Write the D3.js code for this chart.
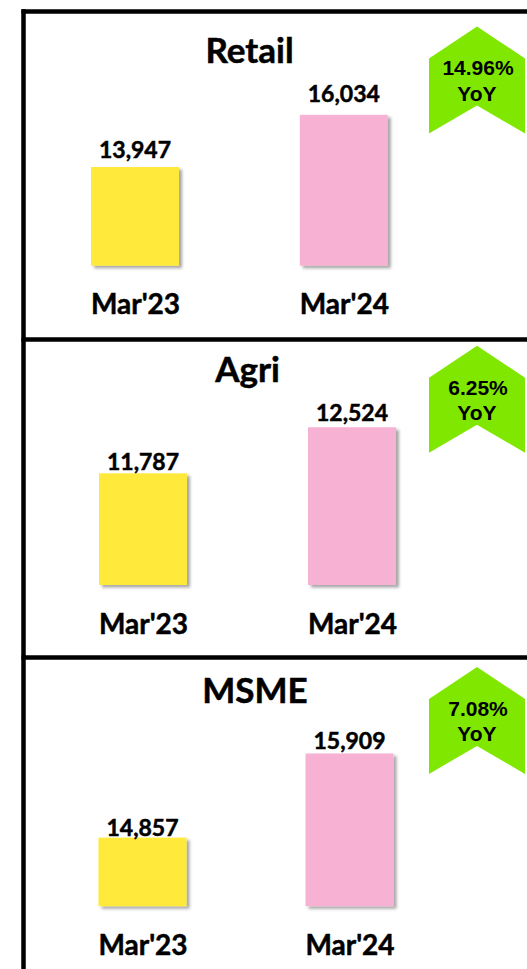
<!DOCTYPE html>
<html>
<head>
<meta charset="utf-8">
<script src="https://cdn.jsdelivr.net/npm/d3@7"></script>
<style>
  html, body { margin: 0; padding: 0; background: #fff; }
  svg { display: block; }
</style>
</head>
<body>
<svg id="chart" width="527" height="969"></svg>
<script>
// ---------------- DATA ----------------
const panelTitles = ["Retail", "Agri", "MSME"];
const periods = ["Mar'23", "Mar'24"];
const prevValues = [13947, 11787, 14857];   // Mar'23
const currValues = [16034, 12524, 15909];   // Mar'24
const yoyLabels = ["14.96%", "6.25%", "7.08%"];
const yoySuffix = "YoY";
const axisMin = [10000, 10000, 14000];
const axisMax = [18000, 13200, 16500];

// ---------------- LAYOUT (positions / styles) ----------------
const W = 527, H = 969;
const layout = [
  { border: 11.5,  base: 265.7, titleX: 249.6, centers: [135, 343.8], valueDy: -9.5 },
  { border: 339.5, base: 585.0, titleX: 247.5, centers: [143, 352],   valueDy: -3 },
  { border: 657.5, base: 906.2, titleX: 255,   centers: [142.5, 349.5], valueDy: -1.5 }
];
const plotHeight = 200;
const barWidth = 88;
const seriesDy = [0, -3];
const barColors = ["#FFE93B", "#F7B1D3"];
const chevronColor = "#80E800";
const labelFont = "Lato, 'Open Sans', sans-serif";
const chevFont = "'Liberation Sans', Arial, sans-serif";

const svg = d3.select("#chart");

// drop shadow for bars
const defs = svg.append("defs");
const f = defs.append("filter").attr("id", "shadow")
  .attr("x", "-20%").attr("y", "-20%").attr("width", "150%").attr("height", "150%");
f.append("feDropShadow").attr("dx", 3).attr("dy", 2.5)
  .attr("stdDeviation", 1.8).attr("flood-color", "#000").attr("flood-opacity", 0.35);

function boldText(sel, size) {
  sel.style("font-family", labelFont).style("font-weight", 700)
    .style("font-size", size + "px").attr("fill", "#000")
    .attr("stroke", "#000").attr("stroke-width", 0.5)
    .style("paint-order", "stroke");
}

// borders
const borderG = svg.append("g");
borderG.selectAll("line.h").data(layout).join("line")
  .attr("class", "h")
  .attr("x1", 21.5).attr("x2", W)
  .attr("y1", d => d.border).attr("y2", d => d.border)
  .attr("stroke", "#000").attr("stroke-width", 4.5);
borderG.append("line")
  .attr("x1", 23.5).attr("x2", 23.5)
  .attr("y1", layout[0].border - 2.25).attr("y2", H)
  .attr("stroke", "#000").attr("stroke-width", 4.5);

// panels
panelTitles.forEach((title, i) => {
  const L = layout[i];
  const vals = [prevValues[i], currValues[i]];
  const g = svg.append("g");

  const x = d3.scalePoint().domain(periods).range(L.centers);
  const y = d3.scaleLinear().domain([axisMin[i], axisMax[i]])
    .range([L.base, L.base - plotHeight]);

  // title
  g.append("text")
    .attr("x", L.titleX).attr("y", L.base - 203)
    .attr("text-anchor", "middle")
    .call(boldText, 35)
    .text(title);

  // bars
  g.selectAll("rect.bar").data(periods).join("rect")
    .attr("class", "bar")
    .attr("x", d => x(d) - barWidth / 2)
    .attr("width", barWidth)
    .attr("y", (d, j) => y(vals[j]))
    .attr("height", (d, j) => y(axisMin[i]) - y(vals[j]))
    .attr("fill", (d, j) => barColors[j])
    .attr("filter", "url(#shadow)");

  // value labels
  g.selectAll("text.val").data(periods).join("text")
    .attr("class", "val")
    .attr("x", d => x(d))
    .attr("y", (d, j) => y(vals[j]) + L.valueDy + seriesDy[j])
    .attr("text-anchor", "middle")
    .call(boldText, 23)
    .text((d, j) => d3.format(",")(vals[j]));

  // category labels (axis)
  const axis = d3.axisBottom(x).tickSize(0).tickPadding(0);
  const ag = g.append("g").attr("transform", `translate(0,${L.base})`).call(axis);
  ag.select(".domain").remove();
  ag.selectAll("text")
    .attr("dy", null).attr("y", 48.5)
    .call(boldText, 28);

  // chevron
  const tipY = L.base - 239.3, cx = 477, hw = 48;
  const pts = [
    [cx, tipY], [cx + hw, tipY + 32], [cx + hw, tipY + 107],
    [cx, tipY + 79], [cx - hw, tipY + 107], [cx - hw, tipY + 32]
  ];
  g.append("path")
    .attr("d", d3.line()(pts) + "Z")
    .attr("fill", chevronColor);
  g.append("text")
    .attr("x", cx + 1).attr("y", tipY + 49)
    .attr("text-anchor", "middle")
    .style("font-family", chevFont).style("font-weight", 700)
    .style("font-size", "21px").attr("fill", "#000")
    .text(yoyLabels[i]);
  g.append("text")
    .attr("x", cx).attr("y", tipY + 74.5)
    .attr("text-anchor", "middle")
    .style("font-family", chevFont).style("font-weight", 700)
    .style("font-size", "21px").attr("fill", "#000")
    .text(yoySuffix);
});
</script>
</body>
</html>
